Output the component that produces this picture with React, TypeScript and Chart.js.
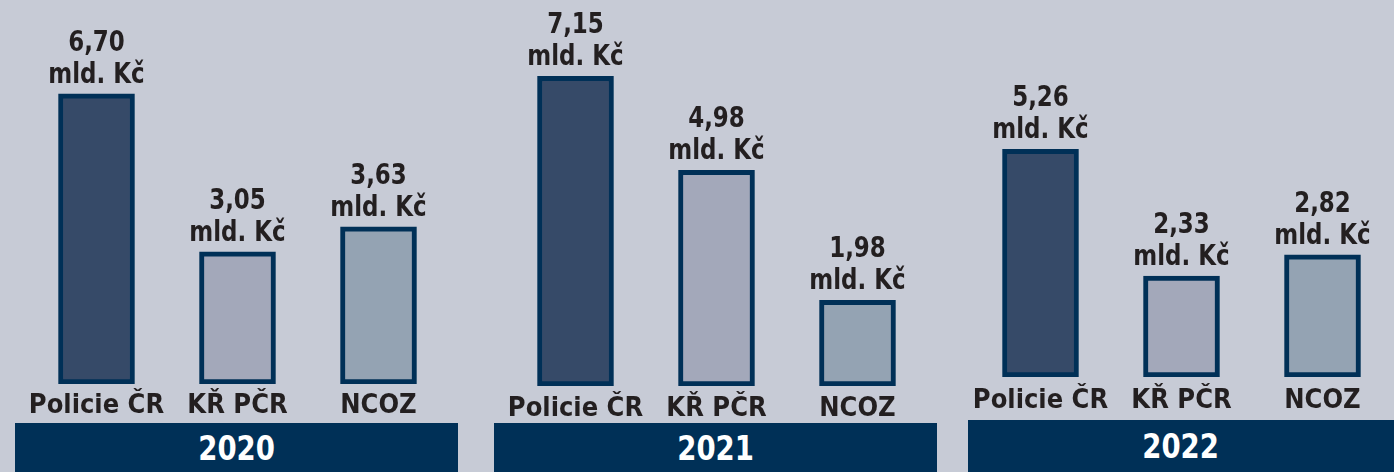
import React, { useEffect, useRef } from "react";
import { Chart, registerables } from "chart.js";
Chart.register(...registerables);

// ---- data ----
const categories = ["Policie ČR", "KŘ PČR", "NCOZ"];
const years = ["2020", "2021", "2022"];
const values2020 = [6.7, 3.05, 3.63];
const values2021 = [7.15, 4.98, 1.98];
const values2022 = [5.26, 2.33, 2.82];
const unitLabel = "mld. Kč";
const seriesByYear = [values2020, values2021, values2022];

// ---- style ----
const FONT = "'Liberation Sans Narrow', 'Arial Narrow', 'DejaVu Sans Condensed', Roboto, sans-serif";
const BG = "#c7cbd6";
const NAVY = "#003057";
const TEXT = "#231f20";
const FILLS = ["#364a68", "#a3a8ba", "#94a3b3"];
const PX_PER_UNIT = 43.3;
const Y_MAX = 8;
const SPACING = 141;

// panel geometry (page px)
const panels = [
  { firstCenter: 96, bottom: 384, tickPad: 5.5, banner: { x: 15, y: 423, w: 443 } },
  { firstCenter: 575, bottom: 386, tickPad: 6.5, banner: { x: 494, y: 423, w: 443 } },
  { firstCenter: 1040, bottom: 377, tickPad: 7.5, banner: { x: 968, y: 420, w: 426 } },
];

const valueLabels = {
  id: "valueLabels",
  afterDatasetsDraw(chart: any) {
    const ctx = chart.ctx;
    const meta = chart.getDatasetMeta(0);
    const data = chart.data.datasets[0].data as number[];
    ctx.save();
    ctx.font = `bold 29px ${FONT}`;
    ctx.fillStyle = TEXT;
    ctx.textAlign = "center";
    ctx.textBaseline = "alphabetic";
    meta.data.forEach((bar: any, i: number) => {
      const txt = data[i].toFixed(2).replace(".", ",");
      ctx.save();
      ctx.translate(bar.x, bar.y);
      ctx.scale(0.88, 1);
      ctx.fillText(txt, 0, -43);
      ctx.fillText(unitLabel, 0, -11);
      ctx.restore();
    });
    ctx.restore();
  },
};

function Panel({ idx }: { idx: number }) {
  const ref = useRef<HTMLCanvasElement>(null);
  const p = panels[idx];
  const width = SPACING * 3;
  const axisH = 40;
  const height = p.bottom + axisH;
  const left = p.firstCenter - SPACING / 2;
  useEffect(() => {
    const chart = new Chart(ref.current!, {
      type: "bar",
      data: {
        labels: categories,
        datasets: [
          {
            data: seriesByYear[idx],
            backgroundColor: FILLS,
            borderColor: NAVY,
            borderWidth: 5,
            borderSkipped: false,
            barThickness: 76,
          },
        ],
      },
      options: {
        responsive: false,
        animation: false,
        events: [],
        layout: { padding: { top: p.bottom - Y_MAX * PX_PER_UNIT, left: 0, right: 0, bottom: 0 } },
        plugins: { legend: { display: false }, tooltip: { enabled: false }, title: { display: false } },
        scales: {
          x: {
            offset: true,
            grid: { display: false, drawTicks: false },
            border: { display: false },
            ticks: {
              color: TEXT,
              font: { family: FONT, size: 27, weight: "bold" },
              padding: p.tickPad,
              maxRotation: 0,
              minRotation: 0,
              autoSkip: false,
            },
            afterFit: (s: any) => {
              s.height = axisH;
              s.paddingLeft = 0;
              s.paddingRight = 0;
            },
          },
          y: { display: false, min: 0, max: Y_MAX },
        },
      },
      plugins: [valueLabels],
    } as any);
    return () => chart.destroy();
  }, []);
  return (
    <>
      <canvas
        ref={ref}
        width={width}
        height={height}
        style={{ position: "absolute", left, top: 0, width, height }}
      />
      <div
        style={{
          position: "absolute",
          left: p.banner.x,
          top: p.banner.y,
          width: p.banner.w,
          height: 472 - p.banner.y,
          background: NAVY,
          color: "#ffffff",
          fontFamily: FONT,
          fontWeight: "bold",
          fontSize: 34,
          display: "flex",
          alignItems: "center",
          justifyContent: "center",
        }}
      >
        <span style={{ display: "inline-block", transform: "scaleX(0.9)" }}>{years[idx]}</span>
      </div>
    </>
  );
}

export default function App() {
  return (
    <div
      style={{
        position: "fixed",
        left: 0,
        top: 0,
        width: 1394,
        height: 472,
        background: BG,
        overflow: "hidden",
      }}
    >
      {years.map((_, i) => (
        <Panel key={i} idx={i} />
      ))}
    </div>
  );
}
